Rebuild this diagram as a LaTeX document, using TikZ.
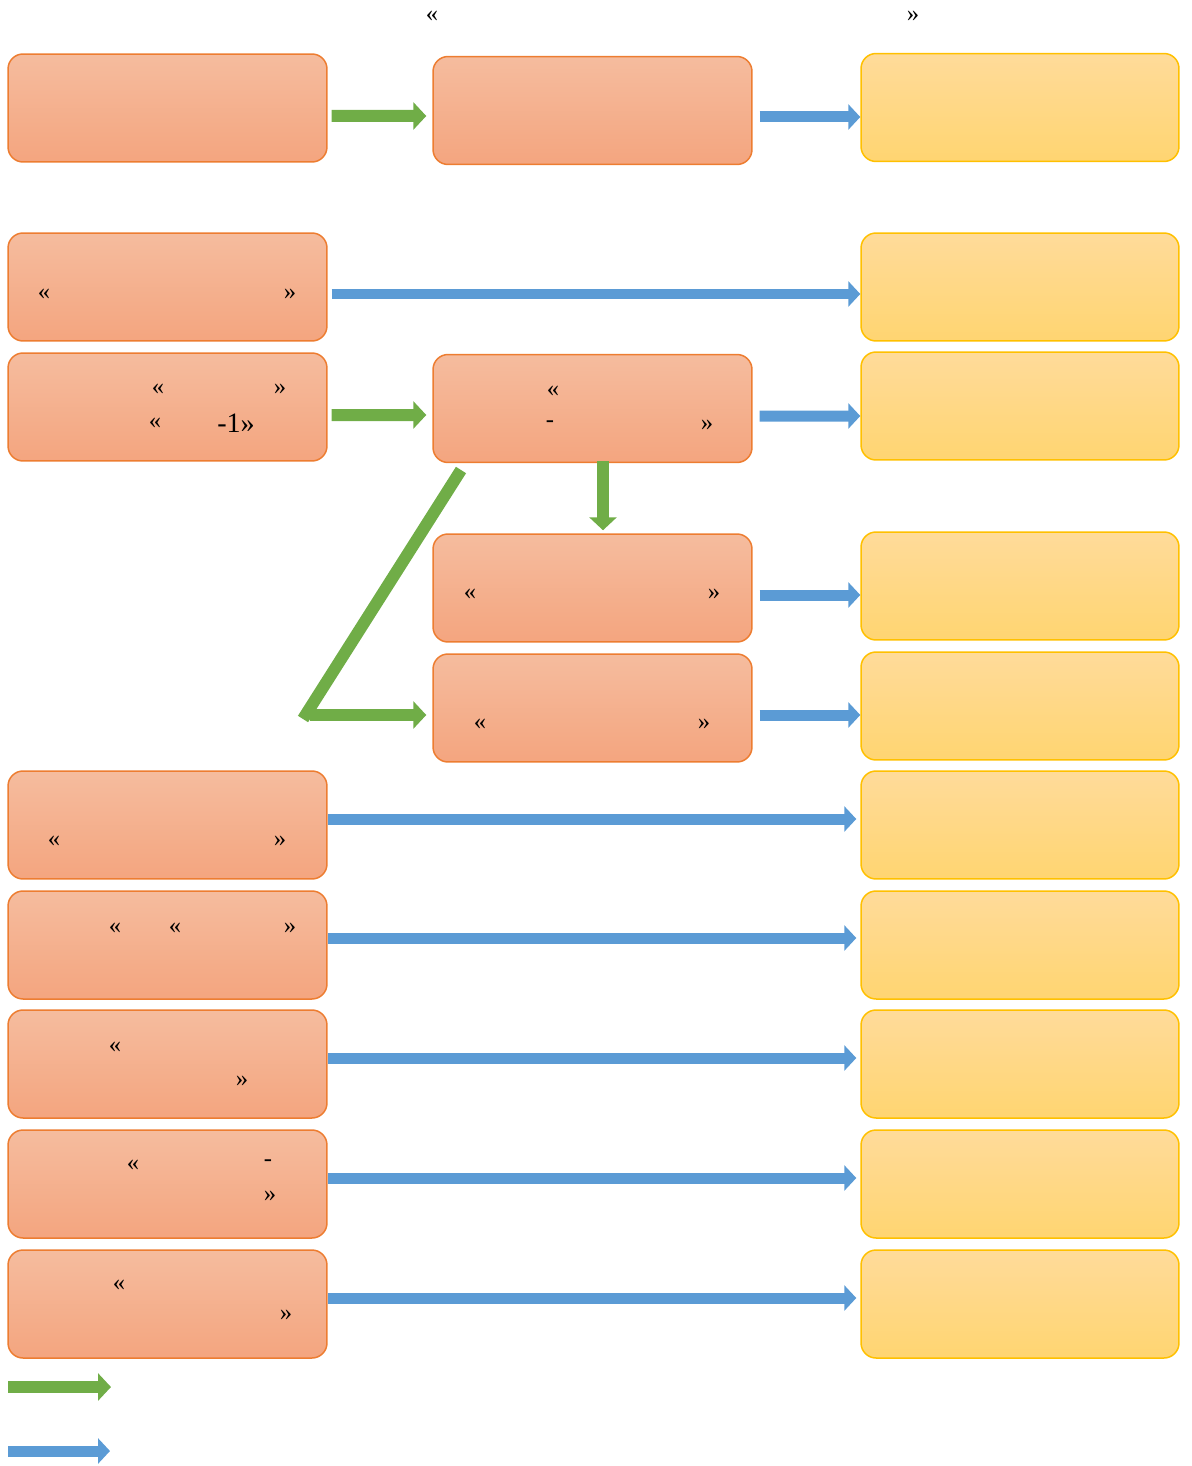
\documentclass[tikz,border=0pt]{standalone}
\usepackage{fontspec}
\setmainfont{Liberation Serif}
\usetikzlibrary{arrows.meta}
\definecolor{otop}{HTML}{F5BC9E}
\definecolor{obot}{HTML}{F4A57F}
\definecolor{oline}{HTML}{ED7D31}
\definecolor{ytop}{HTML}{FFDB9A}
\definecolor{ybot}{HTML}{FFD571}
\definecolor{yline}{HTML}{FFC000}
\definecolor{garrc}{HTML}{70AD47}
\definecolor{barrc}{HTML}{5B9BD5}
\tikzset{
  obox/.style={draw=oline, line width=0.03cm, rounded corners=0.3cm, top color=otop, bottom color=obot,
    minimum width=6.38cm, minimum height=2.16cm, inner sep=0pt},
  ybox/.style={draw=yline, line width=0.03cm, rounded corners=0.3cm, top color=ytop, bottom color=ybot,
    minimum width=6.36cm, minimum height=2.16cm, inner sep=0pt},
  garr/.style={draw=garrc, line width=0.24cm, -{Triangle[width=0.54cm,length=0.26cm]}},
  barr/.style={draw=barrc, line width=0.22cm, -{Triangle[width=0.5cm,length=0.24cm]}},
  gline/.style={draw=garrc, line width=0.24cm},
  txt/.style={font=\fontsize{14pt}{16pt}\selectfont, inner sep=0pt, text=black, yshift=-0.04cm}
}
\begin{document}
\begin{tikzpicture}[x=0.02cm, y=-0.02cm]
\useasboundingbox (0,0) rectangle (1192,1466);
% left column
\node[obox] (a1) at (167.5,108) {};
\node[obox] (a2) at (167.5,287) {};
\node[obox] (a3) at (167.5,407) {};
\node[obox] (a6) at (167.5,825) {};
\node[obox] (a7) at (167.5,945) {};
\node[obox] (a8) at (167.5,1064) {};
\node[obox] (a9) at (167.5,1184) {};
\node[obox] (a10) at (167.5,1304) {};
% middle column
\node[obox] (b1) at (592.5,110.5) {};
\node[obox] (b3) at (592.5,408.5) {};
\node[obox] (b4) at (592.5,588) {};
\node[obox] (b5) at (592.5,708) {};
% right column
\node[ybox] (c1) at (1020,107.5) {};
\node[ybox] (c2) at (1020,287) {};
\node[ybox] (c3) at (1020,406) {};
\node[ybox] (c4) at (1020,586) {};
\node[ybox] (c5) at (1020,706) {};
\node[ybox] (c6) at (1020,825) {};
\node[ybox] (c7) at (1020,945) {};
\node[ybox] (c8) at (1020,1064) {};
\node[ybox] (c9) at (1020,1184) {};
\node[ybox] (c10) at (1020,1304) {};
% texts
\node[txt] (t0a) at (432,14) {«};
\node[txt] (t0b) at (913,14) {»};
\node[txt] (t2a) at (44,292) {«};
\node[txt] (t2b) at (290,292) {»};
\node[txt] (t3a) at (158,387) {«};
\node[txt] (t3b) at (280,387) {»};
\node[txt] (t3c) at (155,421) {«};
\node[txt, font=\fontsize{16pt}{18pt}\selectfont] (t3d) at (236,421) {-1»};
\node[txt] (tb3a) at (553,389) {«};
\node[txt] (tb3b) at (550,422) {-};
\node[txt] (tb3c) at (707,423) {»};
\node[txt] (tb4a) at (470,592) {«};
\node[txt] (tb4b) at (714,592) {»};
\node[txt] (tb5a) at (480,722) {«};
\node[txt] (tb5b) at (704,722) {»};
\node[txt] (t6a) at (54,839) {«};
\node[txt] (t6b) at (280,839) {»};
\node[txt] (t7a) at (115,926) {«};
\node[txt] (t7b) at (175,926) {«};
\node[txt] (t7c) at (290,926) {»};
\node[txt] (t8a) at (115,1045) {«};
\node[txt] (t8b) at (242,1079) {»};
\node[txt] (t9a) at (133,1163) {«};
\node[txt] (t9b) at (268,1161) {-};
\node[txt] (t9c) at (270,1194) {»};
\node[txt] (t10a) at (119,1283) {«};
\node[txt] (t10b) at (286,1313) {»};
% arrows row 1
\draw[garr] ([shift={(4,8)}]a1.east) -- ([shift={(-6,5.5)}]b1.west);
\draw[barr] ([shift={(7,6.5)}]b1.east) -- ([shift={(0,9.5)}]c1.west);
% row 2
\draw[barr] ([shift={(4,7)}]a2.east) -- ([shift={(0,7)}]c2.west);
% row 3
\draw[garr] ([shift={(4,8)}]a3.east) -- ([shift={(-6,6.5)}]b3.west);
\draw[barr] ([shift={(7,7.5)}]b3.east) -- ([shift={(0,10)}]c3.west);
% down arrow
\draw[garr] ([shift={(10.5,-2)}]b3.south) -- ([shift={(10.5,-3)}]b4.north);
% rows 4,5
\draw[barr] ([shift={(7,7)}]b4.east) -- ([shift={(0,9)}]c4.west);
\draw[barr] ([shift={(7,7)}]b5.east) -- ([shift={(0,9)}]c5.west);
% diagonal
\coordinate (d1) at (461,470);
\coordinate (d2) at (303,719);
\draw[gline] (d1) -- (d2);
\draw[garr] ([shift={(7,-4)}]d2) -- ([shift={(-6,7)}]b5.west);
% rows 6-10
\draw[barr] ([shift={(0,-6)}]a6.east) -- ([shift={(-4,-6)}]c6.west);
\draw[barr] ([shift={(0,-7)}]a7.east) -- ([shift={(-4,-7)}]c7.west);
\draw[barr] ([shift={(0,-6)}]a8.east) -- ([shift={(-4,-6)}]c8.west);
\draw[barr] ([shift={(0,-6)}]a9.east) -- ([shift={(-4,-6)}]c9.west);
\draw[barr] ([shift={(0,-6)}]a10.east) -- ([shift={(-4,-6)}]c10.west);
% legend
\coordinate (lg1) at (8,1387);
\coordinate (lg2) at (111,1387);
\coordinate (lb1) at (8,1451);
\coordinate (lb2) at (110,1451);
\draw[garr] (lg1) -- (lg2);
\draw[barr] (lb1) -- (lb2);
\end{tikzpicture}
\end{document}
